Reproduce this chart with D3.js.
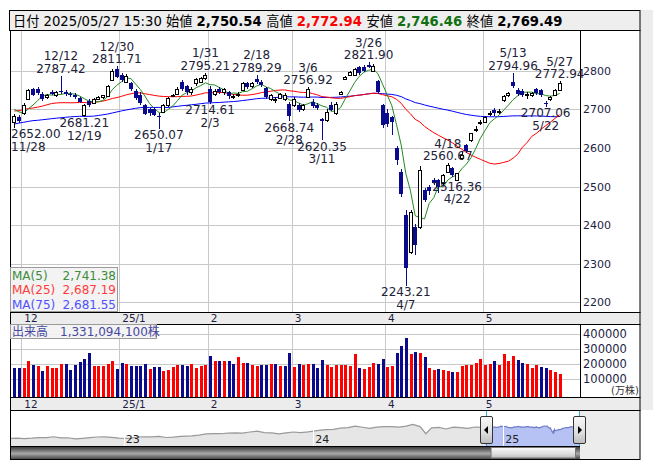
<!DOCTYPE html>
<html>
<head>
<meta charset="utf-8">
<script src="https://cdn.jsdelivr.net/npm/d3@7"></script>
<style>
  body { margin: 0; background: #fff; }
  svg text { font-family: "DejaVu Sans", "Noto Sans CJK JP", sans-serif; }
</style>
</head>
<body>
<div id="chart"></div>
<script>
/**
 * DATA
 * */
const dates = [
  "11/28","11/29",
  "12/2","12/3","12/4","12/5","12/6","12/9","12/10","12/11","12/12","12/13",
  "12/16","12/17","12/18","12/19","12/20","12/23","12/24","12/25","12/26","12/27","12/30",
  "1/6","1/7","1/8","1/9","1/10","1/14","1/15","1/16","1/17","1/20","1/21","1/22","1/23","1/24",
  "1/27","1/28","1/29","1/30","1/31",
  "2/3","2/4","2/5","2/6","2/7","2/10","2/12","2/13","2/14","2/17","2/18","2/19","2/20","2/21",
  "2/25","2/26","2/27","2/28",
  "3/3","3/4","3/5","3/6","3/7","3/10","3/11","3/12","3/13","3/14","3/17","3/18","3/19","3/21",
  "3/24","3/25","3/26","3/27","3/28","3/31",
  "4/1","4/2","4/3","4/4","4/7","4/8","4/9","4/10","4/11","4/14","4/15","4/16","4/17","4/18",
  "4/21","4/22","4/23","4/24","4/25","4/28","4/30",
  "5/1","5/2","5/7","5/8","5/9","5/12","5/13","5/14","5/15","5/16","5/19","5/20","5/21","5/22",
  "5/23","5/26","5/27"
];
const opens = [
  2667,2680,
  2690,2726,2752,2752,2740,2731,2744,2738,2748,2745,2741,2737,2730,2686,2722,2716,2728,2733,2735,2777,2805,
  2790,2772,2767,2748,2738,2710,2700,2702,2683,2694,2711,2735,2741,2770,2760,2745,2767,2771,2780,
  2754,2740,2752,2744,2745,2733,2737,2750,2767,2760,2779,2771,2755,2727,2724,2730,2726,2714,
  2712,2712,2702,2733,2720,2712,2674,2672,2711,2690,2739,2778,2789,2790,2810,2810,2815,2800,2773,2711,
  2690,2680,2599,2538,2426,2331,2396,2396,2491,2500,2517,2517,2508,2538,2547,2518,2573,2607,2620,2648,2666,
  2668,2689,2698,2692,2724,2737,2772,2750,2748,2740,2738,2752,2750,2717,2726,2738,2750.54
];
const highs = [
  2688,2686,
  2716,2753,2756,2758,2744,2741,2750,2747,2787.42,2749,2746,2742,2733,2713,2726,2730,2734,2738,2764,2804,2811.71,
  2795,2792,2771,2752,2744,2714,2704,2706,2690,2713,2732,2740,2757,2775,2764,2757,2782,2784,2795.21,
  2760,2752,2758,2756,2748,2740,2745,2770,2770,2772,2789.29,2775,2758,2740,2733,2743,2742,2718,
  2732,2716,2715,2756.92,2726,2716,2678,2700,2718,2720,2748,2786,2799,2808,2813,2815,2821.90,2817,2776,2714,
  2700,2684,2605,2545,2438,2440,2402,2552,2496,2505,2522,2520,2533,2560.67,2550,2536,2590,2610,2640,2656,2673,
  2683,2697,2703,2700,2736,2745,2794.96,2755,2752,2745,2745,2756,2753,2722,2735,2754,2772.94
];
const lows = [
  2652.00,2664,
  2686,2724,2734,2738,2722,2726,2736,2733,2741,2735,2731,2727,2716,2681.21,2705,2714,2724,2728,2733,2775,2781,
  2770,2768,2748,2725,2712,2685,2682,2684,2650.07,2692,2706,2731,2738,2747,2737,2738,2760,2768,2776,
  2714.61,2735,2740,2738,2728,2727,2733,2748,2752,2756,2765,2758,2727,2722,2716,2727,2722,2668.74,
  2706,2692,2696,2730,2704,2699,2620.35,2668,2695,2686,2736,2775,2786,2787,2790,2796,2806,2796,2740,2652,
  2655,2633,2555,2474,2243.21,2326,2322,2390,2460,2478,2505,2484,2503,2535,2525,2516.36,2568,2586,2616,2642,2660,
  2664,2683,2684,2688,2720,2733,2756,2735,2733,2728,2733,2738,2733,2707.06,2722,2736,2746.46
];
const closes = [
  2684,2671,
  2712,2750,2738,2742,2728,2736,2740,2744,2746,2740,2736,2731,2720,2711,2710,2726,2731,2736,2761,2800,2784.92,
  2776,2786,2752,2730,2716,2689,2690,2686,2681,2711,2730,2737,2754,2752,2744,2752,2778,2781,2789,
  2720,2748,2744,2752,2735,2734,2741,2767,2757,2768,2770,2763,2732,2737,2728,2739,2736,2682,
  2728,2698,2712,2752,2708,2703,2670,2694,2698,2715,2746,2784,2797,2805,2795,2800,2809,2813,2746,2658.73,
  2661,2667,2568.61,2482,2288.66,2435,2348,2543,2466,2489,2510,2500,2530,2556,2530,2534,2581,2591,2638,2650,2668,
  2679,2691,2690,2697,2734,2743,2761,2741,2738,2741,2742,2743,2737,2716,2733,2751.40,2769.49
];
// volume, 万株
const volumes = [
  173000,170000,
  173000,220000,193000,187000,153000,187000,173000,173000,198000,198000,160000,193000,211000,233000,273000,
  182000,187000,182000,198000,220000,167000,
  207000,198000,187000,187000,187000,198000,167000,180000,180000,153000,160000,180000,193000,193000,
  187000,198000,170000,185000,193000,
  253000,220000,220000,220000,220000,198000,247000,207000,207000,193000,187000,193000,193000,198000,
  198000,182000,187000,273000,
  180000,198000,193000,198000,198000,173000,227000,189000,178000,191000,191000,191000,187000,267000,
  173000,167000,180000,207000,200000,233000,
  180000,187000,273000,320000,367000,267000,275000,273000,247000,173000,160000,167000,160000,153000,
  147000,147000,187000,193000,193000,207000,233000,
  193000,200000,220000,193000,267000,220000,253000,227000,207000,200000,173000,193000,180000,173000,
  160000,147000,133109
];
// closes before the first bar (for the moving averages)
const priorCloses = [
  2468,2566,2576,2596,2673,2619,2641,2631,2650,2656,2650,2660,2667,2672,2712,
  2710,2695,2605,2596,2620,2595,2583,2566,2608,2589,2570,2589,2648,2692,2687,2672,2720,2733,2616,
  2648,2636,2664,2645,2697,2654,2676,2682,2689,2727,2677,2680,2683,2659,2645,2654,2646,2641,2688,2701,2688,2658,
  2653,2657,2712,2724,2743,2742,2726,2700,2714,2738,2701,2682,2690,2688,2705,2729,2693,2690
];

const priceTicks = [2200, 2300, 2400, 2500, 2600, 2700, 2800];
const volTicks = [100000, 200000, 300000, 400000];
const monthIdx = [2, 23, 42, 60, 80, 101];
const monthLabels = ["12", "25/1", "2", "3", "4", "5"];
const annHigh = [10, 22, 41, 52, 63, 76, 93, 107, 117];
const annLow = [0, 15, 31, 42, 59, 66, 84, 95, 114];

const maPeriods = [5, 25, 75];
const maNames = ["MA(5)", "MA(25)", "MA(75)"];
const maValues = ["2,741.38", "2,687.19", "2,681.55"];
const volLegend = "出来高　1,331,094,100株";

const headerDate = "2025/05/27 15:30";
const ohlcNames = ["始値", "高値", "安値", "終値"];
const ohlcText = ["2,750.54", "2,772.94", "2,746.46", "2,769.49"];

// navigator (long history)
const navDates = [
  "2022-05-29","2022-06-10","2022-06-24","2022-07-08","2022-07-22","2022-08-05","2022-08-19","2022-09-02",
  "2022-09-16","2022-09-30","2022-10-14","2022-10-28","2022-11-11","2022-11-25","2022-12-09","2022-12-23",
  "2023-01-13","2023-01-27","2023-02-10","2023-02-24","2023-03-10","2023-03-24","2023-04-07","2023-04-21",
  "2023-05-12","2023-05-26","2023-06-09","2023-06-23","2023-07-07","2023-07-21","2023-08-04","2023-08-18",
  "2023-09-01","2023-09-15","2023-09-29","2023-10-13","2023-10-27","2023-11-10","2023-11-24","2023-12-08",
  "2023-12-22","2024-01-12","2024-01-26","2024-02-09","2024-02-22","2024-03-08","2024-03-22","2024-04-05",
  "2024-04-19","2024-05-02","2024-05-17","2024-05-31","2024-06-14","2024-06-28","2024-07-11","2024-07-25",
  "2024-08-05","2024-08-16","2024-08-30","2024-09-13","2024-09-27","2024-10-11","2024-10-25","2024-11-08",
  "2024-11-22"
];
const navValues = [
  1880,1900,1860,1890,1935,1930,2000,1920,1925,1835,1880,1930,1980,1990,1955,1895,
  1880,1980,1985,1990,2030,1945,1970,2030,2060,2120,2220,2240,2230,2270,2290,2280,
  2360,2420,2320,2300,2220,2300,2360,2320,2370,2490,2540,2560,2650,2690,2810,2720,
  2630,2730,2770,2770,2730,2810,2930,2770,2230,2670,2710,2590,2730,2690,2640,2740,
  2705
];

/**
 * LAYOUT
 * */
const W = 653, H = 470;
const left = 10, right = 640, plotRight = 580;
const priceTop = 31, priceBottom = 312;
const volTop = 324, volBottom = 397;
const navTop = 410, navLineBottom = 446, navBottom = 459;

const n = closes.length;
const navy = "#0a0a8c";
const textCol = "#1e1e44";

const svg = d3.select("#chart").append("svg")
  .attr("width", W).attr("height", H);

const defs = svg.append("defs");
defs.append("clipPath").attr("id", "clipPrice")
  .append("rect").attr("x", left + 1).attr("y", priceTop).attr("width", plotRight - left - 1).attr("height", priceBottom - priceTop);

// scales
const x = d3.scaleBand().domain(d3.range(n)).range([12, 562]);
const cx = i => x(i) + x.bandwidth() / 2;
const y = d3.scaleLinear().domain([2175, 2903]).range([priceBottom, priceTop]);
const yv = d3.scaleLinear().domain([-20000, 400000]).range([volBottom, 333.5]);

// grey strip on the right
svg.append("rect").attr("x", right).attr("y", 10).attr("width", W - right).attr("height", navTop - 10).attr("fill", "#ececec");

// header
svg.append("rect").attr("x", 9.5).attr("y", 10.5).attr("width", right - 9.5).attr("height", 20)
  .attr("fill", "#eeeeee").attr("stroke", "#000");
const hdr = svg.append("text").attr("x", 13).attr("y", 25.5).style("font-size", "13.2px")
  .style("white-space", "pre").attr("fill", "#000");
hdr.append("tspan").text("日付 " + headerDate + " ");
const ohlcColors = ["#000", "#ff0000", "#107010", "#000"];
ohlcNames.forEach((nm, k) => {
  hdr.append("tspan").text(nm + " ");
  hdr.append("tspan").attr("font-weight", "bold").attr("fill", ohlcColors[k]).text(ohlcText[k] + (k < 3 ? " " : ""));
});

// panels
function panel(y0, y1, fill) {
  svg.append("rect").attr("x", left + 0.5).attr("y", y0 + 0.5).attr("width", right - left - 0.5).attr("height", y1 - y0)
    .attr("fill", fill).attr("stroke", "#000");
}
panel(priceTop - 1, priceBottom, "#fff");
panel(priceBottom, volTop, "#ececec");
panel(volTop, volBottom, "#fff");
panel(volBottom, navTop, "#ececec");
panel(navTop, navBottom, "#ececec");

[[priceTop, priceBottom], [volTop, volBottom]].forEach(([a, b]) => {
  svg.append("line").attr("x1", plotRight + 0.5).attr("x2", plotRight + 0.5).attr("y1", a).attr("y2", b).attr("stroke", "#000");
});

// grids
const grid = svg.append("g").attr("stroke", "#c8c8c8").attr("shape-rendering", "crispEdges");
priceTicks.forEach(p => {
  grid.append("line").attr("x1", left + 1).attr("x2", plotRight).attr("y1", Math.round(y(p)) + 0.5).attr("y2", Math.round(y(p)) + 0.5);
});
volTicks.forEach(v => {
  grid.append("line").attr("x1", left + 1).attr("x2", plotRight).attr("y1", Math.round(yv(v)) + 0.5).attr("y2", Math.round(yv(v)) + 0.5);
});
monthIdx.forEach(i => {
  const gx = Math.round(x(i)) + 0.5;
  grid.append("line").attr("x1", gx).attr("x2", gx).attr("y1", priceTop).attr("y2", priceBottom);
  grid.append("line").attr("x1", gx).attr("x2", gx).attr("y1", volTop + 1).attr("y2", volBottom);
});

// price axis labels
svg.append("g").selectAll("text").data(priceTicks).join("text")
  .attr("x", 583).attr("y", d => y(d) + 4)
  .style("font-size", "11px").attr("fill", textCol).text(d => d);

// volume axis labels
svg.append("g").selectAll("text").data(volTicks).join("text")
  .attr("x", 583).attr("y", d => yv(d) + 4)
  .style("font-size", "11.5px").attr("fill", textCol).text(d => d);
svg.append("text").attr("x", 611).attr("y", 394).style("font-size", "10px").attr("fill", "#333").text("(万株)");

// date strips
[322, 408].forEach(by => {
  svg.append("g").selectAll("text").data(monthIdx).join("text")
    .attr("x", d => x(d) + 3).attr("y", by)
    .style("font-size", "10.5px").attr("fill", textCol)
    .text((d, k) => monthLabels[k]);
});

// moving averages
const allCloses = priorCloses.concat(closes);
const off = priorCloses.length;
const maColors = ["#228b22", "#ff0000", "#0000ff"];
const line = d3.line().x((d, i) => cx(i)).y(d => y(d));
const pg = svg.append("g").attr("clip-path", "url(#clipPrice)");
[2, 1, 0].forEach(k => {
  const per = maPeriods[k];
  const ma = closes.map((c, i) => d3.mean(allCloses.slice(i + off - per + 1, i + off + 1)));
  pg.append("path").attr("d", line(ma)).attr("fill", "none").attr("stroke", maColors[k]).attr("stroke-width", 1);
});

// candles
const cg = pg.append("g").attr("shape-rendering", "crispEdges");
d3.range(n).forEach(i => {
  const r = Math.round(cx(i));
  const up = closes[i] >= opens[i];
  const col = up ? "#000" : navy;
  cg.append("line").attr("x1", r + 0.5).attr("x2", r + 0.5)
    .attr("y1", y(highs[i])).attr("y2", y(lows[i])).attr("stroke", col);
  const top = Math.round(y(Math.max(opens[i], closes[i])));
  const bot = Math.round(y(Math.min(opens[i], closes[i])));
  if (up) {
    cg.append("rect").attr("x", r - 1.5).attr("y", top + 0.5).attr("width", 3).attr("height", Math.max(bot - top, 1))
      .attr("fill", "#fff").attr("stroke", "#000");
  } else {
    cg.append("rect").attr("x", r - 2).attr("y", top).attr("width", 4).attr("height", Math.max(bot - top, 1))
      .attr("fill", navy);
  }
});

// volume bars
svg.append("g").attr("shape-rendering", "crispEdges")
  .selectAll("rect").data(volumes).join("rect")
  .attr("x", (d, i) => Math.round(cx(i)) - 1)
  .attr("width", 3)
  .attr("y", d => yv(d))
  .attr("height", d => volBottom - yv(d))
  .attr("fill", (d, i) => {
    const prev = i === 0 ? priorCloses[off - 1] : closes[i - 1];
    return closes[i] >= prev ? "#ff0000" : navy;
  });

// high / low annotations
const ann = svg.append("g").style("font-size", "12px").attr("fill", "#222238");
function label(i, first, second, baseline1, baseline2) {
  [[first, baseline1], [second, baseline2]].forEach(([t, by]) => {
    const el = ann.append("text").attr("y", by).text(t);
    const w = el.node().getComputedTextLength();
    el.attr("x", Math.max(left + 1, cx(i) - w / 2));
  });
}
annHigh.forEach(i => {
  const b = y(highs[i]) - 3;
  label(i, dates[i], highs[i].toFixed(2), b - 12.5, b);
});
annLow.forEach(i => {
  const b = y(lows[i]) + 10.5;
  label(i, lows[i].toFixed(2), dates[i], b, b + 12.5);
});

// MA legend
svg.append("rect").attr("x", left + 0.5).attr("y", 267.5).attr("width", 107).attr("height", 44)
  .attr("fill", "#f2f2f2").attr("fill-opacity", 0.9).attr("stroke", "#9a9a9a");
const legCol = ["#3c8c3c", "#ff3c3c", "#5050ff"];
maNames.forEach((nm, k) => {
  const by = 280 + k * 14.3;
  svg.append("text").attr("x", 12).attr("y", by).style("font-size", "12px").attr("fill", legCol[k]).text(nm);
  svg.append("text").attr("x", 116).attr("y", by).attr("text-anchor", "end").style("font-size", "12px").attr("fill", legCol[k]).text(maValues[k]);
});

// volume legend
svg.append("rect").attr("x", left + 0.5).attr("y", volTop + 0.5).attr("width", 146).attr("height", 14)
  .attr("fill", "#f2f2f2").attr("fill-opacity", 0.9).attr("stroke", "#9a9a9a");
svg.append("text").attr("x", 12).attr("y", 336).style("font-size", "12px").attr("fill", "#4848a0").text(volLegend);

/**
 * NAVIGATOR
 * */
const parse = d3.timeParse("%Y-%m-%d");
const navData = navDates.map((d, k) => ({ date: parse(d), value: navValues[k] }));
dates.forEach((d, i) => {
  const [m, dd] = d.split("/").map(Number);
  navData.push({ date: new Date(m >= 11 ? 2024 : 2025, m - 1, dd), value: closes[i] });
});
const nx = d3.scaleTime().domain([parse("2022-05-29"), parse("2025-05-27")]).range([left + 1, plotRight - 1]);
const ny = d3.scaleLinear().domain([1300, 3800]).range([navLineBottom, navTop + 3]);

svg.append("rect").attr("x", left + 1).attr("y", navTop + 1).attr("width", plotRight - left - 1).attr("height", navLineBottom - navTop - 1).attr("fill", "#fff");
const area = d3.area().x(d => nx(d.date)).y0(navLineBottom).y1(d => ny(d.value));
const navLine = d3.line().x(d => nx(d.date)).y(d => ny(d.value));
const selStart = navData.findIndex(d => d.date >= new Date(2024, 10, 28));
const before = navData.slice(0, selStart + 1);
const sel = navData.slice(selStart);
svg.append("path").attr("d", area(before)).attr("fill", "#e6e6e6");
svg.append("path").attr("d", navLine(before)).attr("fill", "none").attr("stroke", "#999").attr("stroke-width", 1.2);
svg.append("path").attr("d", area(sel)).attr("fill", "#b7c2f4");
svg.append("path").attr("d", navLine(sel)).attr("fill", "none").attr("stroke", "#6f7cc8").attr("stroke-width", 1.2);

const years = [new Date(2023, 0, 1), new Date(2024, 0, 1), new Date(2025, 0, 1)];
svg.append("g").selectAll("line").data(years).join("line")
  .attr("x1", d => Math.round(nx(d)) + 0.5).attr("x2", d => Math.round(nx(d)) + 0.5)
  .attr("y1", navTop + 1).attr("y2", navLineBottom).attr("stroke", "#fff");
svg.append("g").selectAll("text").data(years).join("text")
  .attr("x", d => nx(d) + 2).attr("y", 443).style("font-size", "11px").attr("fill", "#222")
  .text(d3.timeFormat("%y"));

// scrollbar
const gDark = defs.append("linearGradient").attr("id", "gDark").attr("x1", 0).attr("x2", 0).attr("y1", 0).attr("y2", 1);
[["0%", "#3c3c3c"], ["55%", "#a8a8a8"], ["100%", "#4a4a4a"]].forEach(([o, c]) => gDark.append("stop").attr("offset", o).attr("stop-color", c));
const gLight = defs.append("linearGradient").attr("id", "gLight").attr("x1", 0).attr("x2", 0).attr("y1", 0).attr("y2", 1);
[["0%", "#fafafa"], ["60%", "#dedede"], ["100%", "#bcbcbc"]].forEach(([o, c]) => gLight.append("stop").attr("offset", o).attr("stop-color", c));

const selX0 = nx(new Date(2024, 10, 28)), selX1 = nx(new Date(2025, 4, 27));
svg.append("line").attr("x1", left + 1).attr("x2", plotRight).attr("y1", navLineBottom + 0.5).attr("y2", navLineBottom + 0.5).attr("stroke", "#000");
svg.append("rect").attr("x", left + 1).attr("y", navLineBottom + 1).attr("width", plotRight - left - 1).attr("height", navBottom - navLineBottom - 1).attr("fill", "url(#gDark)");
svg.append("rect").attr("x", selX0 + 5.5).attr("y", navLineBottom + 1.5).attr("width", selX1 - selX0 - 9).attr("height", navBottom - navLineBottom - 2.5)
  .attr("fill", "url(#gLight)").attr("stroke", "#777");

// selection edges and handles
[selX0, selX1].forEach((hx, k) => {
  svg.append("line").attr("x1", Math.round(hx) + 0.5).attr("x2", Math.round(hx) + 0.5).attr("y1", navTop + 1).attr("y2", navLineBottom)
    .attr("stroke", "#38a8e0");
  svg.append("rect").attr("x", Math.round(hx) - 5.5).attr("y", 416.5).attr("width", 12).attr("height", 27).attr("rx", 1.5)
    .attr("fill", "url(#gLight)").attr("stroke", "#333");
  const tx = Math.round(hx) + 0.5, ty = 430;
  const tri = k === 0 ? [[tx - 2.5, ty], [tx + 1.5, ty - 4], [tx + 1.5, ty + 4]] : [[tx + 2.5, ty], [tx - 1.5, ty - 4], [tx - 1.5, ty + 4]];
  svg.append("path").attr("d", d3.line()(tri) + "Z").attr("fill", "#000");
});
</script>
</body>
</html>
